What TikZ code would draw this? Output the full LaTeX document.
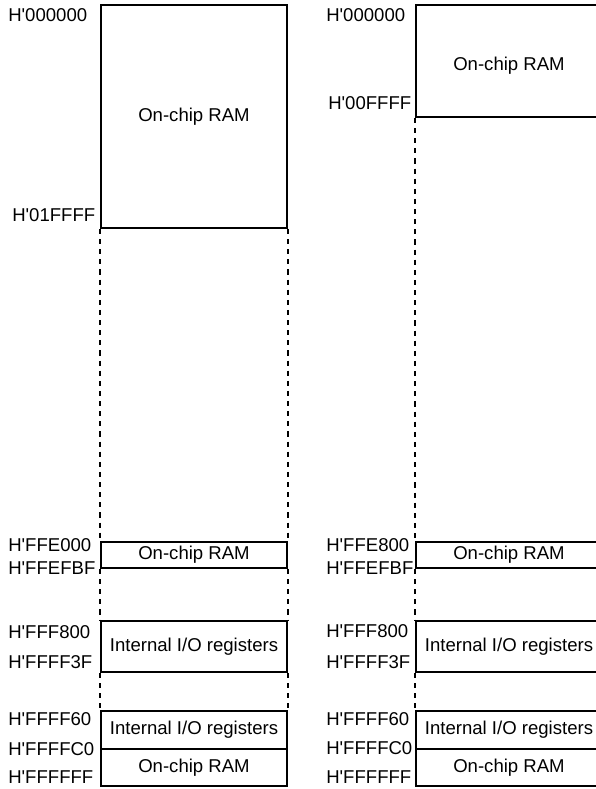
\documentclass[tikz,border=0pt]{standalone}
\usepackage{fontspec}
\setmainfont{Liberation Sans}
\newcommand\hx{H\textquotesingle}
\tikzset{
  area/.style={draw, line width=1.4pt, minimum width=186*0.025cm, inner sep=0pt, font=\fontsize{13.2}{15}\selectfont},
  addr/.style={anchor=west, inner sep=0pt, font=\fontsize{13.2}{15}\selectfont},
  gap/.style={line width=0.9pt, dash pattern=on 3.6pt off 3.6pt},
}
\begin{document}
\begin{tikzpicture}[x=0.025cm, y=-0.025cm]
\clip (0,0) rectangle (596,789);
% left map
\node (la1)[area, minimum height=223*0.025cm] at (194, 116.5) {On-chip RAM};
\node (la2)[area, minimum height=26*0.025cm] at (194, 555) {On-chip RAM};
\node (la3)[area, minimum height=51*0.025cm] at (194, 646.5) {Internal I/O registers};
\node (la4)[area, minimum height=38*0.025cm] at (194, 730) {Internal I/O registers};
\node (la5)[area, minimum height=37*0.025cm] at (194, 767.5) {On-chip RAM};

\draw[gap] (la1.south west) -- (la2.north west) ;
\draw[gap] (la1.south east) -- (la2.north east) ;
\draw[gap] (la2.south west) -- (la3.north west) ;
\draw[gap] (la2.south east) -- (la3.north east) ;
\draw[gap] (la3.south west) -- (la4.north west) ;
\draw[gap] (la3.south east) -- (la4.north east) ;

\node (lt1)[addr] at (8, 15) {\hx000000};
\node (lt2)[addr] at (12, 215) {\hx01FFFF};
\node (lt3)[addr] at (8, 545) {\hx FFE000};
\node (lt4)[addr] at (8, 568) {\hx FFEFBF};
\node (lt5)[addr] at (8, 632) {\hx FFF800};
\node (lt6)[addr] at (8, 662) {\hx FFFF3F};
\node (lt7)[addr] at (8, 719) {\hx FFFF60};
\node (lt8)[addr] at (8, 749) {\hx FFFFC0};
\node (lt9)[addr] at (8, 777) {\hx FFFFFF};

% right map
\node (ra1)[area, minimum height=112*0.025cm] at (509, 61) {};
\node (ra1t)[font=\fontsize{13.2}{15}\selectfont] at (509, 66) {On-chip RAM};
\node (ra2)[area, minimum height=26*0.025cm] at (509, 555) {On-chip RAM};
\node (ra3)[area, minimum height=51*0.025cm] at (509, 646.5) {Internal I/O registers};
\node (ra4)[area, minimum height=38*0.025cm] at (509, 730) {Internal I/O registers};
\node (ra5)[area, minimum height=37*0.025cm] at (509, 767.5) {On-chip RAM};

\draw[gap] (ra1.south west) -- (ra2.north west) ;
\draw[gap] (ra2.south west) -- (ra3.north west) ;
\draw[gap] (ra3.south west) -- (ra4.north west) ;

\node (rt1)[addr] at (326, 15) {\hx000000};
\node (rt2)[addr] at (328, 103) {\hx00FFFF};
\node (rt3)[addr] at (326, 545) {\hx FFE800};
\node (rt4)[addr] at (326, 568) {\hx FFEFBF};
\node (rt5)[addr] at (326, 631) {\hx FFF800};
\node (rt6)[addr] at (326, 662) {\hx FFFF3F};
\node (rt7)[addr] at (326, 719) {\hx FFFF60};
\node (rt8)[addr] at (326, 748) {\hx FFFFC0};
\node (rt9)[addr] at (326, 777) {\hx FFFFFF};
\end{tikzpicture}
\end{document}
